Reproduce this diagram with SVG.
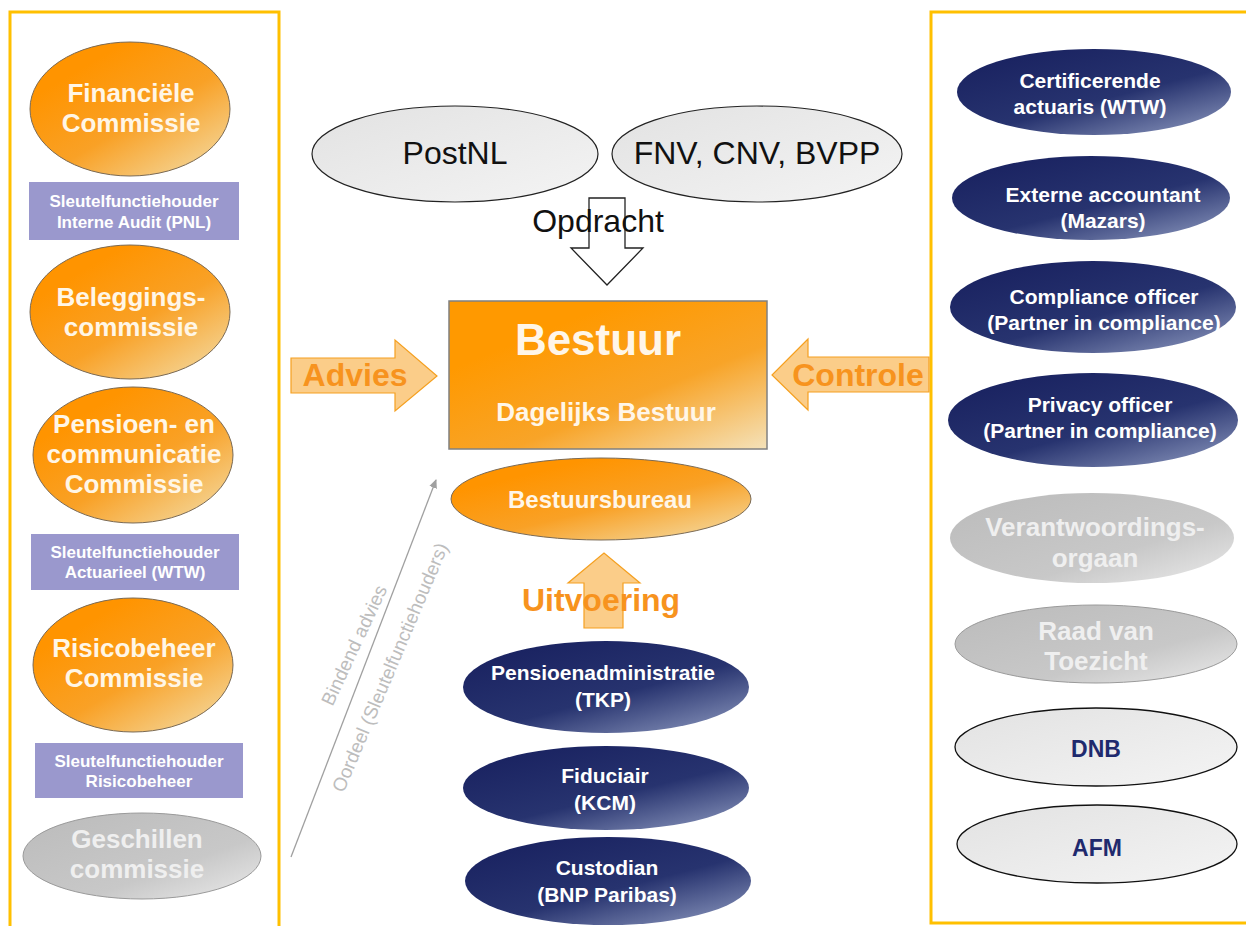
<svg xmlns="http://www.w3.org/2000/svg" width="1246" height="926" viewBox="0 0 1246 926">
<defs>
<linearGradient id="gOr" x1="0.25" y1="0.2" x2="0.95" y2="1">
<stop offset="0" stop-color="#FF9400"/><stop offset="0.45" stop-color="#F9A126"/><stop offset="1" stop-color="#F3DDA8"/>
</linearGradient>
<linearGradient id="gBox" x1="0.3" y1="0.2" x2="1" y2="1">
<stop offset="0" stop-color="#FF9900"/><stop offset="0.5" stop-color="#F8A428"/><stop offset="1" stop-color="#F4E2BA"/>
</linearGradient>
<linearGradient id="gNavy" x1="0.2" y1="0.1" x2="0.95" y2="1">
<stop offset="0" stop-color="#1B2462"/><stop offset="0.5" stop-color="#27336F"/><stop offset="1" stop-color="#8C98BE"/>
</linearGradient>
<linearGradient id="gGray" x1="0.2" y1="0.1" x2="1" y2="0.9">
<stop offset="0" stop-color="#BEBEBE"/><stop offset="0.6" stop-color="#C8C8C8"/><stop offset="1" stop-color="#E6E6E6"/>
</linearGradient>
<linearGradient id="gLight" x1="0" y1="0" x2="1" y2="1">
<stop offset="0" stop-color="#E2E2E2"/><stop offset="1" stop-color="#F4F4F4"/>
</linearGradient>
<marker id="arr" markerWidth="10" markerHeight="10" refX="8" refY="5" orient="auto" markerUnits="userSpaceOnUse">
<path d="M0,1 L9,5 L0,9 z" fill="#A0A0A0"/>
</marker>
</defs>
<style>
text{font-family:"Liberation Sans",Arial,sans-serif;text-anchor:middle}
.panel{fill:none;stroke:#FFC000;stroke-width:3}
.or{fill:url(#gOr);stroke:#7A6A55;stroke-width:1}
.navy{fill:url(#gNavy)}
.gray{fill:url(#gGray);stroke:#9A9A9A;stroke-width:1}
.light{fill:url(#gLight);stroke:#111;stroke-width:1.3}
.purp{fill:#9A98CD}
.tw{fill:#FFF6E6;font-weight:bold;font-size:26px}
.tp{fill:#FFFFFF;font-weight:bold;font-size:17px}
.tn{fill:#FFFFFF;font-weight:bold;font-size:21px}
.tg{fill:#EFEFEF;font-weight:bold;font-size:26px}
.tb{fill:#1F2A6E;font-weight:bold;font-size:23px}
.blk{fill:#111;font-size:32px}
.oarrow{fill:#FBC87C;stroke:#F5A020;stroke-width:1.2;fill-opacity:0.9}
.otxt{fill:#F7931E;font-weight:bold;font-size:32px}
.diag{fill:#BDBDBD;font-size:19px}
</style>
<rect x="0" y="0" width="1246" height="926" fill="#FFFFFF"/>
<rect class="panel" x="10" y="12" width="269" height="930"/>
<rect class="panel" x="931" y="12" width="330" height="911"/>

<g id="connectors">
<polygon class="oarrow" points="291,358 395,358 395,340 437,376 395,411 395,393 291,393"/>
<polygon class="oarrow" points="929,357 808,357 808,339 772,375 808,410 808,392 929,392"/>
<polygon class="oarrow" points="584,628 623,628 623,583 640,583 604,553 568,583 584,583"/>
<polygon points="589,198 625,198 625,248 643,248 607,285 571,248 589,248" fill="#FFFFFF" stroke="#222" stroke-width="1.3"/>
<line x1="291" y1="857" x2="436" y2="480" stroke="#A0A0A0" stroke-width="1.3" marker-end="url(#arr)"/>
<text class="otxt" x="355" y="386">Advies</text>
<text class="otxt" x="858" y="386">Controle</text>
<text class="otxt" x="601" y="611">Uitvoering</text>
<text class="blk" x="598" y="232" font-size="30">Opdracht</text>
<text class="diag" transform="translate(360,648) rotate(-65)">Bindend advies</text>
<text class="diag" transform="translate(396,670) rotate(-67)">Oordeel (Sleutelfunctiehouders)</text>
</g>

<g id="fin"><ellipse class="or" cx="130" cy="109" rx="100" ry="67"/><text class="tw" x="131" y="102">Financiële</text><text class="tw" x="131" y="132">Commissie</text></g>
<g id="sfh1"><rect class="purp" x="29" y="182" width="210" height="58"/><text class="tp" x="134" y="207">Sleutelfunctiehouder</text><text class="tp" x="134" y="228">Interne Audit (PNL)</text></g>
<g id="bel"><ellipse class="or" cx="130" cy="312" rx="100" ry="67"/><text class="tw" x="131" y="306">Beleggings-</text><text class="tw" x="131" y="336">commissie</text></g>
<g id="pen"><ellipse class="or" cx="133" cy="455" rx="100" ry="68"/><text class="tw" x="134" y="433">Pensioen- en</text><text class="tw" x="134" y="463">communicatie</text><text class="tw" x="134" y="493">Commissie</text></g>
<g id="sfh2"><rect class="purp" x="31" y="534" width="208" height="56"/><text class="tp" x="135" y="558">Sleutelfunctiehouder</text><text class="tp" x="135" y="578">Actuarieel (WTW)</text></g>
<g id="ris"><ellipse class="or" cx="133" cy="665" rx="100" ry="67"/><text class="tw" x="134" y="657">Risicobeheer</text><text class="tw" x="134" y="687">Commissie</text></g>
<g id="sfh3"><rect class="purp" x="35" y="743" width="208" height="55"/><text class="tp" x="139" y="767">Sleutelfunctiehouder</text><text class="tp" x="139" y="787">Risicobeheer</text></g>
<g id="gesch"><ellipse class="gray" cx="142" cy="856" rx="119" ry="43"/><text class="tg" x="137" y="848">Geschillen</text><text class="tg" x="137" y="878">commissie</text></g>

<g id="postnl"><ellipse cx="455" cy="154" rx="143" ry="48" fill="url(#gLight)" stroke="#222" stroke-width="1.2"/><text class="blk" x="455" y="164">PostNL</text></g>
<g id="fnv"><ellipse cx="757" cy="154" rx="145" ry="48" fill="url(#gLight)" stroke="#222" stroke-width="1.2"/><text class="blk" x="757" y="164">FNV, CNV, BVPP</text></g>
<g id="bestuur"><rect x="449" y="301" width="318" height="148" fill="url(#gBox)" stroke="#808080" stroke-width="1.5"/><text x="598" y="355" fill="#FFF6E8" font-weight="bold" font-size="44">Bestuur</text><text x="606" y="421" fill="#FFF6E8" font-weight="bold" font-size="26">Dagelijks Bestuur</text></g>
<g id="bureau"><ellipse class="or" cx="601" cy="499" rx="150" ry="41"/><text x="600" y="508" fill="#FFF6E8" font-weight="bold" font-size="24">Bestuursbureau</text></g>

<g id="tkp"><ellipse class="navy" cx="606" cy="687" rx="143" ry="46"/><text class="tn" x="603" y="680">Pensioenadministratie</text><text class="tn" x="603" y="707">(TKP)</text></g>
<g id="kcm"><ellipse class="navy" cx="606" cy="788" rx="143" ry="42"/><text class="tn" x="605" y="783">Fiduciair</text><text class="tn" x="605" y="810">(KCM)</text></g>
<g id="bnp"><ellipse class="navy" cx="608" cy="881" rx="143" ry="44"/><text class="tn" x="607" y="875">Custodian</text><text class="tn" x="607" y="902">(BNP Paribas)</text></g>

<g id="cert"><ellipse class="navy" cx="1094" cy="92" rx="137" ry="43"/><text class="tn" x="1090" y="88">Certificerende</text><text class="tn" x="1090" y="114">actuaris (WTW)</text></g>
<g id="ext"><ellipse class="navy" cx="1091" cy="198" rx="139" ry="42"/><text class="tn" x="1103" y="202">Externe accountant</text><text class="tn" x="1103" y="228">(Mazars)</text></g>
<g id="comp"><ellipse class="navy" cx="1093" cy="307" rx="143" ry="46"/><text class="tn" x="1104" y="304">Compliance officer</text><text class="tn" x="1104" y="330">(Partner in compliance)</text></g>
<g id="priv"><ellipse class="navy" cx="1093" cy="420" rx="145" ry="47"/><text class="tn" x="1100" y="412">Privacy officer</text><text class="tn" x="1100" y="438">(Partner in compliance)</text></g>
<g id="vo"><ellipse cx="1092" cy="538" rx="142" ry="45" fill="url(#gGray)"/><text class="tg" x="1095" y="536">Verantwoordings-</text><text class="tg" x="1095" y="567">orgaan</text></g>
<g id="rvt"><ellipse class="gray" cx="1096" cy="644" rx="141" ry="39"/><text class="tg" x="1096" y="640">Raad van</text><text class="tg" x="1096" y="670">Toezicht</text></g>
<g id="dnb"><ellipse class="light" cx="1096" cy="747" rx="141" ry="39"/><text class="tb" x="1096" y="757">DNB</text></g>
<g id="afm"><ellipse class="light" cx="1097" cy="844" rx="140" ry="39"/><text class="tb" x="1097" y="856">AFM</text></g>
</svg>
